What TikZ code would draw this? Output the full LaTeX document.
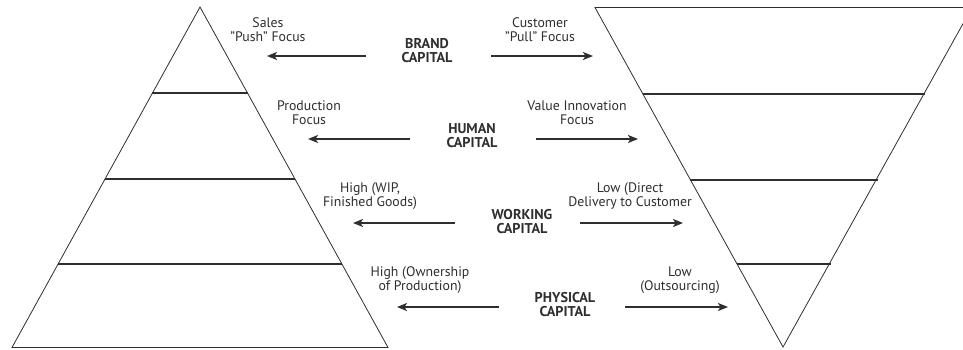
\documentclass[tikz,border=0pt]{standalone}
\usepackage{fontspec}
\setmainfont{PT Sans}
\usetikzlibrary{arrows.meta}
\definecolor{ink}{gray}{0.18}
\begin{document}
\begin{tikzpicture}[x=1pt,y=-1pt,
  edge/.style={draw=ink, line width=0.8pt, line join=miter},
  tier/.style={draw=ink, line width=1.2pt},
  arr/.style={draw=ink, line width=1.6pt, -{Stealth[length=10pt,width=8pt,inset=2.5pt]}},
  lbl/.style={align=center, inner sep=0pt, text=ink, font=\fontsize{13.8}{14}\selectfont},
  caplbl/.style={lbl, font=\fontsize{14.2}{14}\selectfont\bfseries}]
\useasboundingbox (0,0) rectangle (963,349);
\begin{scope}
\clip (0,0) rectangle (963,349);
% upright pyramid (left)
\coordinate (pTop) at (200,7);
\coordinate (pBL) at (12,347.5);
\coordinate (pBR) at (388,347.5);
\draw[edge] (pBL) -- (pTop) -- (pBR) -- cycle;
\draw[tier] (152,93) -- (248,93);
\draw[tier] (105,179) -- (295,179);
\draw[tier] (58,264) -- (342,264);
% inverted pyramid (right)
\coordinate (iTL) at (595,7.5);
\coordinate (iTR) at (972,7.5);
\coordinate (iBot) at (783,347);
\draw[edge] (iTL) -- (iTR) -- (iBot) -- cycle;
\draw[tier] (643,94) -- (925,94);
\draw[tier] (690,180) -- (878,180);
\draw[tier] (737,264) -- (831,264);
\end{scope}

% capital labels
\node[caplbl] (brand) at (427,51) {BRAND\\CAPITAL};
\node[caplbl] (human) at (472,136) {HUMAN\\CAPITAL};
\node[caplbl] (working) at (522,222) {WORKING\\CAPITAL};
\node[caplbl] (physical) at (565,305) {PHYSICAL\\CAPITAL};

% left-hand descriptions
\node[lbl] (push) at (268,30) {Sales\\”Push” Focus};
\node[lbl] (prod) at (309,113) {Production\\Focus};
\node[lbl] (wip) at (370,196) {High (WIP,\\Finished Goods)};
\node[lbl] (own) at (420,280) {High (Ownership\\of Production)};

% right-hand descriptions
\node[lbl] (pull) at (540,30) {Customer\\”Pull” Focus};
\node[lbl] (value) at (577,113) {Value Innovation\\Focus};
\node[lbl] (direct) at (630,196) {Low (Direct\\Delivery to Customer};
\node[lbl] (outs) at (680,280) {Low\\(Outsourcing)};

% arrow end points
\coordinate (bS1) at (366,56);  \coordinate (bE1) at (267,56);
\coordinate (bS2) at (491,56);  \coordinate (bE2) at (593,56);
\coordinate (hS1) at (410,139); \coordinate (hE1) at (308,139);
\coordinate (hS2) at (536,139); \coordinate (hE2) at (638,139);
\coordinate (wS1) at (455,223); \coordinate (wE1) at (353,223);
\coordinate (wS2) at (580,223); \coordinate (wE2) at (683,223);
\coordinate (yS1) at (499,307); \coordinate (yE1) at (397,307);
\coordinate (yS2) at (625,307); \coordinate (yE2) at (728,307);

\draw[arr] (bS1) -- (bE1);
\draw[arr] (bS2) -- (bE2);
\draw[arr] (hS1) -- (hE1);
\draw[arr] (hS2) -- (hE2);
\draw[arr] (wS1) -- (wE1);
\draw[arr] (wS2) -- (wE2);
\draw[arr] (yS1) -- (yE1);
\draw[arr] (yS2) -- (yE2);
\end{tikzpicture}
\end{document}
